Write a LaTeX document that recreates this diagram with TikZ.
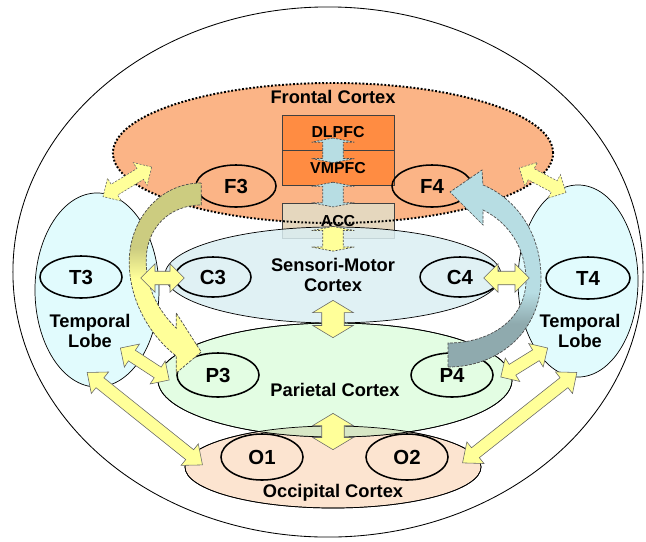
\documentclass[tikz,border=0pt]{standalone}
\usepackage{fontspec}
\setmainfont{Liberation Sans}
\usetikzlibrary{calc,positioning,shapes.geometric,shapes.arrows}

\definecolor{fondfrontal}{RGB}{251,180,134}
\definecolor{fondpfc}{RGB}{255,140,66}
\definecolor{fondacc}{RGB}{229,215,190}
\definecolor{fondmoteur}{RGB}{218,238,242}
\definecolor{fondtemporal}{RGB}{225,251,253}
\definecolor{fondparietal}{RGB}{227,253,227}
\definecolor{fondoccipital}{RGB}{252,228,208}
\definecolor{fondmelange}{RGB}{216,231,198}
\definecolor{jaune}{RGB}{255,255,153}
\definecolor{flecheolive}{RGB}{204,204,128}
\definecolor{flechebleu}{RGB}{183,221,227}
\definecolor{flecheardoise}{RGB}{143,170,174}

\pgfdeclareverticalshading{degradeolive}{100bp}{color(0bp)=(jaune); color(50bp)=(jaune); color(58bp)=(flecheolive); color(100bp)=(flecheolive)}
\pgfdeclareverticalshading{degradebleu}{100bp}{color(0bp)=(flecheardoise); color(36bp)=(flecheardoise); color(44bp)=(flechebleu); color(100bp)=(flechebleu)}

% double fleche posee entre deux points
\newcommand\relie[3][]{%
  \path let \p1=($#3-#2$), \n1={veclen(\x1,\y1)} in #2 -- #3 node[lien, sloped, midway, minimum height=\n1, #1] {};}

\begin{document}
\begin{tikzpicture}[x=0.025cm, y=-0.025cm]
        \tikzstyle {zone} = [ellipse, draw=black, line width=0.5pt, inner sep=0pt]
        \tikzstyle {site} = [ellipse, draw=black, line width=1.1pt, inner sep=0pt, font=\fontsize{14.5}{16}\selectfont\bfseries]
        \tikzstyle {titre} = [align=center, font=\fontsize{13}{14}\selectfont\bfseries]
        \tikzstyle {aire} = [rectangle, draw=black!75, line width=0.5pt, minimum width=2.8cm, minimum height=0.875cm, font=\fontsize{11.3}{13}\selectfont\bfseries]
        \tikzstyle {lien} = [double arrow, draw=black!60, line width=0.4pt, fill=jaune, inner sep=4.6pt, double arrow head extend=5.3pt, double arrow tip angle=90]
        \tikzstyle {passage} = [double arrow, draw=black!70, line width=0.5pt, dash pattern=on 1.5pt off 1pt, rotate=90, minimum height=12.8pt, inner sep=7.1pt, double arrow head extend=7.8pt, double arrow tip angle=158, fill=flechebleu]
        \tikzstyle {courbe} = [draw=black!70, line width=0.5pt, dash pattern=on 2pt off 1pt]
        \useasboundingbox (0,0) rectangle (646,541);

        % Tete
        \node (tete) [zone, line width=0.6pt, minimum width=15.75cm, minimum height=13.25cm] at (328,272) {};
        % Lobes temporaux
        \node (tempg) [zone, fill=fondtemporal, minimum width=3.1cm, minimum height=4.85cm] at (97,290) {};
        \node (tempd) [zone, fill=fondtemporal, minimum width=3cm, minimum height=4.8cm] at (578,281) {};
        % Cortex frontal
        \node (frontal) [ellipse, fill=fondfrontal, minimum width=11cm, minimum height=3.5cm] at (333,153) {};
        \node (dlpfc) [aire, fill=fondpfc] at (338,132.5) {DLPFC};
        \node (vmpfc) [aire, fill=fondpfc, below=0pt of dlpfc] {VMPFC};
        \node (acc) [aire, fill=fondacc, below=0.425cm of vmpfc] {ACC};
        \draw [line width=1.4pt, dash pattern=on 1.3pt off 1.3pt] (frontal.center) ellipse [x radius=5.5cm, y radius=1.75cm];
        % Cortex sensori-moteur
        \node (sensori) [zone, titre, fill=fondmoteur, fill opacity=0.85, text opacity=1, minimum width=8.4cm, minimum height=2.4cm] at (333,275) {Sensori-Motor\\Cortex};
        % Cortex occipital et parietal
        \node (occipital) [zone, fill=fondoccipital, minimum width=7.4cm, minimum height=2.05cm] at (333,467) {};
        \node (parietal) [zone, fill=fondparietal, minimum width=8.85cm, minimum height=2.85cm] at (335,380) {};
        \begin{scope}
            \clip (parietal.center) ellipse [x radius=4.425cm, y radius=1.425cm];
            \fill [fondmelange] (occipital.center) ellipse [x radius=3.7cm, y radius=1.025cm];
        \end{scope}
        \draw [line width=0.5pt] (occipital.center) ellipse [x radius=3.7cm, y radius=1.025cm];
        \draw [line width=0.5pt] (parietal.center) ellipse [x radius=4.425cm, y radius=1.425cm];

        % Electrodes
        \node (f3) [site, minimum width=2cm, minimum height=1.05cm] at (236,186) {F3};
        \node (f4) [site, minimum width=2cm, minimum height=1.05cm] at (432,186) {F4};
        \node (t3) [site, minimum width=2.05cm, minimum height=1.05cm] at (81,277) {T3};
        \node (t4) [site, minimum width=2.1cm, minimum height=1.05cm] at (588,278) {T4};
        \node (c3) [site, minimum width=1.9cm, minimum height=1cm] at (213,277) {C3};
        \node (c4) [site, minimum width=2cm, minimum height=1cm] at (460,277) {C4};
        \node (p3) [site, minimum width=2.05cm, minimum height=1.1cm] at (218,375) {P3};
        \node (p4) [site, minimum width=2.05cm, minimum height=1.1cm] at (452,375) {P4};
        \node (o1) [site, minimum width=2.05cm, minimum height=1.15cm] at (262,457) {O1};
        \node (o2) [site, minimum width=2.05cm, minimum height=1.15cm] at (407,457) {O2};

        % Titres
        \node (titre_frontal) [titre] at ($(frontal.north)+(0,14)$) {Frontal Cortex};
        \node (titre_tempg) [titre] at ($(t3)+(9,54)$) {Temporal\\Lobe};
        \node (titre_tempd) [titre] at ($(t4)+(-8,53)$) {Temporal\\Lobe};
        \node (titre_parietal) [titre] at ($(parietal.center)+(0,10)$) {Parietal Cortex};
        \node (titre_occipital) [titre] at ($(occipital.south)+(0,-16)$) {Occipital Cortex};

        % Fleches courbes F3 -> P3 et P4 -> F4
        \begin{scope}[shift={(f3.west)}]
            \shadedraw [courbe, shading=degradeolive] (6,-3) .. controls (-36,-3) and (-66,34) .. (-66,76) .. controls (-66,114) and (-46,149) .. (-19,170) -- (-19,187) -- (6,166) -- (-19,127) -- (-19,142) .. controls (-38,124) and (-50,99) .. (-49,72) .. controls (-48,42) and (-26,19) .. (6,19) -- cycle;
        \end{scope}
        \begin{scope}[shift={(p4.center)}]
            \shadedraw [courbe, shading=degradebleu] (-4,-8) .. controls (48,-8) and (89,-45) .. (89,-97) .. controls (89,-143) and (63,-177) .. (31,-190) -- (30,-205) -- (-2,-183) -- (31,-150) -- (31,-165) .. controls (56,-153) and (74,-127) .. (74,-95) .. controls (74,-57) and (40,-32) .. (-4,-32) -- cycle;
        \end{scope}

        % Liaisons entre aires
        \relie[dash pattern=on 1.5pt off 1pt, inner sep=4.3pt, double arrow head extend=5pt]{($(tempg.north)+(6,4)$)}{($(frontal.west)+(39,14)$)}
        \relie[dash pattern=on 1.5pt off 1pt, inner sep=4.3pt, double arrow head extend=5pt]{($(frontal.east)+(-34,15)$)}{($(tempd.north)+(-12,8)$)}
        \relie{($(t3.east)+(18,1)$)}{($(c3.west)+(10,1)$)}
        \relie{($(c4.east)+(-17,1)$)}{($(t4.west)+(-16,0)$)}
        \relie[inner sep=7.8pt, double arrow head extend=6.4pt, double arrow tip angle=118]{($(sensori.south)+(0,-23)$)}{($(parietal.north)+(-2,15)$)}
        \relie[inner sep=7.8pt, double arrow head extend=6.4pt, double arrow tip angle=118]{($(parietal.south)+(-2,-24)$)}{($(occipital.north)+(0,24)$)}
        \relie[inner sep=4.3pt]{($(tempg.east)+(-39,58)$)}{($(p3.west)+(-7,5)$)}
        \relie[inner sep=4.3pt]{($(tempd.west)+(30,67)$)}{($(p4.east)+(7,2)$)}
        \relie[inner sep=4.3pt, double arrow tip angle=80]{($(tempg.south)+(-10,-15)$)}{($(occipital.west)+(18,-2)$)}
        \relie[inner sep=4.3pt, double arrow tip angle=80]{($(tempd.south)+(-1,-5)$)}{($(occipital.east)+(-19,-4)$)}
        % Passages entre DLPFC, VMPFC et ACC
        \node (passage_a) [passage] at ($(dlpfc.south)+(-5,0)$) {};
        \node (passage_b) [passage] at ($(vmpfc.south)!0.5!(acc.north)+(-5,0)$) {};
        \node (passage_c) [passage, fill=jaune] at ($(acc.south)+(-5,0)$) {};
\end{tikzpicture}
\end{document}
